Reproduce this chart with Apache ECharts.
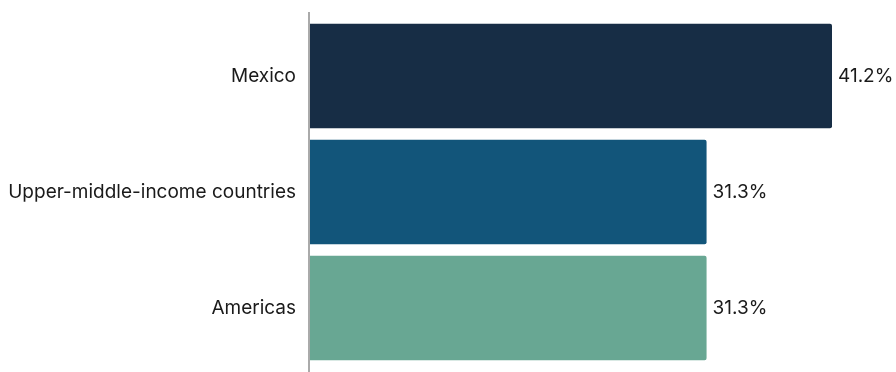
<!DOCTYPE html>
<html>
<head>
<meta charset="utf-8">
<script src="https://cdn.jsdelivr.net/npm/echarts@6/dist/echarts.min.js"></script>
<style>
  html, body { margin: 0; padding: 0; background: #fff; }
  #chart { width: 896px; height: 372px; }
</style>
</head>
<body>
<div id="chart"></div>
<script>
const categories = ["Mexico", "Upper-middle-income countries", "Americas"];
const values = [41.2, 31.3, 31.3];
const barColors = ["#172d45", "#12557a", "#68a793"];

const chart = echarts.init(document.getElementById("chart"));

chart.setOption({
  animation: false,
  grid: { left: 310, right: 64, top: 18, bottom: 6 },
  xAxis: {
    type: "value",
    min: 0,
    max: 41.2,
    show: false
  },
  yAxis: {
    type: "category",
    inverse: true,
    data: categories,
    axisLine: { show: false },
    axisTick: { show: false },
    axisLabel: {
      margin: 14,
      color: "#1a1a1a",
      fontSize: 19,
      fontFamily: "Inter"
    }
  },
  graphic: [
    {
      type: "rect",
      shape: { x: 308, y: 12, width: 2, height: 360 },
      style: { fill: "#aaaaaa" }
    }
  ],
  series: [
    {
      type: "bar",
      barCategoryGap: "10%",
      data: values.map((v, i) => ({
        value: v,
        itemStyle: { color: barColors[i], borderRadius: [0, 2, 2, 0] }
      })),
      label: {
        show: true,
        position: "right",
        distance: 6,
        color: "#1a1a1a",
        fontSize: 19,
        fontFamily: "Inter",
        formatter: p => p.value.toFixed(1) + "%"
      }
    }
  ]
});
</script>
</body>
</html>
